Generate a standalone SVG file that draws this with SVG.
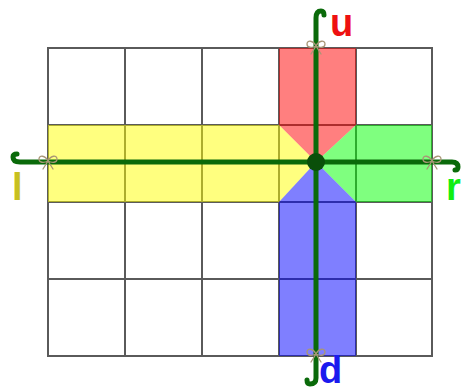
<svg xmlns="http://www.w3.org/2000/svg" width="462" height="391" viewBox="0 0 462 391">
<style>
.grid{fill:none;stroke:#5a5a5a;stroke-width:2}
.ov{fill-opacity:0.5}
.axis{fill:none;stroke:#0a6a0a;stroke-width:5;stroke-linecap:round;stroke-linejoin:round}
.lbl{font-family:"Liberation Sans",Arial,sans-serif;font-weight:bold;font-size:38px}
.bow{fill:none;stroke:#a89676;stroke-width:1.3;stroke-linecap:round}
</style>
<defs>
<g id="bowshape">
<path class="bow" d="M0,0 C-3,-6 -9,-6 -9,-2 C-9,2 -4,2 0,0 C3,-6 9,-6 9,-2 C9,2 4,2 0,0 M0,0 L-5,8 M0,0 L5,8"/>
</g>
</defs>
<rect width="462" height="391" fill="#ffffff"/>
<g id="grid">
<rect class="grid" x="48" y="48" width="384" height="308"/>
<path class="grid" d="M125,48V356M202,48V356M279,48V356M356,48V356M48,125H432M48,202H432M48,279H432"/>
</g>
<g id="up-region">
<path class="ov" fill="#ff0000" d="M279,48H356V125L316,162L279,125Z"/>
</g>
<g id="left-region">
<path class="ov" fill="#ffff00" d="M48,125H279L316,162L279,202H48Z"/>
</g>
<g id="right-region">
<path class="ov" fill="#00ff00" d="M356,125H432V202H356L316,162Z"/>
</g>
<g id="down-region">
<path class="ov" fill="#0000ff" d="M279,202L316,162L356,202V356H279Z"/>
</g>
<g id="connectors">
<path class="axis" d="M316,162V18Q316,11 321,11Q324,11 324,15"/>
<path class="axis" d="M316,162V378Q316,384 310,384Q307,384 307,380"/>
<path class="axis" d="M316,162H20Q13,162 13,157Q13,154 17,154"/>
<path class="axis" d="M316,162H452Q458,162 458,167Q458,170 455,170"/>
<circle cx="316" cy="162" r="9" fill="#0a4f0a"/>
</g>
<g id="bows">
<use href="#bowshape" x="316" y="46"/>
<use href="#bowshape" x="48" y="161"/>
<use href="#bowshape" x="432" y="161"/>
<use href="#bowshape" x="316" y="354"/>
</g>
<g id="label-u"><text class="lbl" x="330" y="36" fill="#ee1111">u</text></g>
<g id="label-l"><text class="lbl" x="12" y="200" fill="#c8c020">l</text></g>
<g id="label-r"><text class="lbl" x="446" y="200" fill="#11ee11">r</text></g>
<g id="label-d"><text class="lbl" x="319" y="383" fill="#1a1aee">d</text></g>
</svg>
